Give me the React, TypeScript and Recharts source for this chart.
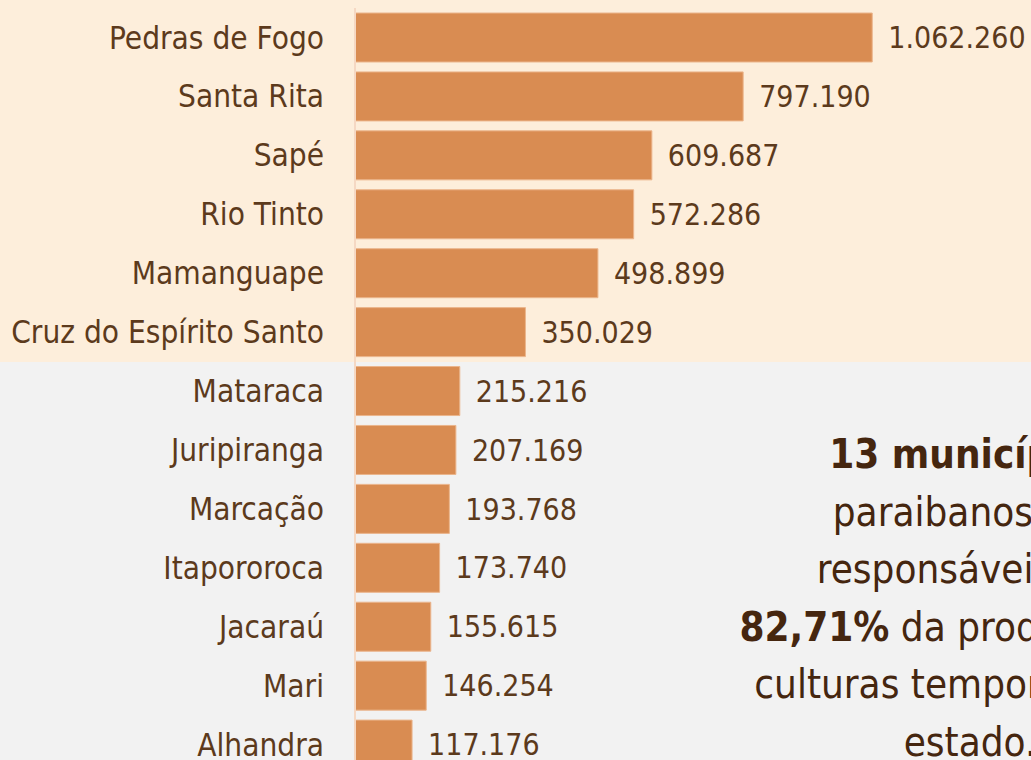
import { Bar, BarChart, LabelList, XAxis, YAxis } from "recharts";

const municipios = [
  "Pedras de Fogo",
  "Santa Rita",
  "Sapé",
  "Rio Tinto",
  "Mamanguape",
  "Cruz do Espírito Santo",
  "Mataraca",
  "Juripiranga",
  "Marcação",
  "Itapororoca",
  "Jacaraú",
  "Mari",
  "Alhandra",
];

const producao = [
  1062260, 797190, 609687, 572286, 498899, 350029, 215216, 207169, 193768,
  173740, 155615, 146254, 117176,
];

const data = municipios.map((nome, i) => ({ nome, valor: producao[i] }));

const font = "'DejaVu Sans Condensed', 'DejaVu Sans', sans-serif";
const textColor = "#5c3a1c";

const fmt = (v: number) =>
  v.toString().replace(/\B(?=(\d{3})+(?!\d))/g, ".");

export default function App() {
  return (
    <div
      style={{
        position: "absolute",
        left: 0,
        top: 0,
        width: 1031,
        height: 760,
        overflow: "hidden",
        fontFamily: font,
      }}
    >
      <div
        style={{
          position: "absolute",
          left: 0,
          top: 0,
          width: 1031,
          height: 362,
          background: "#fdeedb",
        }}
      />
      <div
        style={{
          position: "absolute",
          left: 0,
          top: 362,
          width: 1031,
          height: 398,
          background: "#f2f2f2",
        }}
      />
      <div style={{ position: "absolute", left: 0, top: 0 }}>
        <BarChart
          width={1031}
          height={780}
          data={data}
          layout="vertical"
          margin={{ top: 8, right: 43, left: 0, bottom: 6 }}
          barCategoryGap={5}
        >
          <XAxis type="number" domain={[0, 1300000]} hide />
          <YAxis
            type="category"
            dataKey="nome"
            width={355}
            axisLine={{ stroke: "#f5d8c3", strokeWidth: 2 }}
            tickLine={false}
            tickMargin={25}
            tick={{ fill: textColor, fontSize: 31.3, fontFamily: font }}
            interval={0}
          />
          <Bar
            dataKey="valor"
            fill="#d98c52"
            stroke="#ebb58c"
            strokeWidth={1}
            isAnimationActive={false}
          >
            <LabelList
              dataKey="valor"
              position="right"
              offset={16}
              formatter={(v: any) => fmt(Number(v))}
              style={{ fill: textColor, fontSize: 30, fontFamily: font }}
            />
          </Bar>
        </BarChart>
      </div>
      <div
        style={{
          position: "absolute",
          left: 670,
          top: 426,
          width: 600,
          textAlign: "center",
          whiteSpace: "nowrap",
          color: "#45260f",
          fontSize: 40,
          lineHeight: "57.5px",
        }}
      >
        <b>13 municípios</b>
        <br />
        paraibanos são
        <br />
        responsáveis por
        <br />
        <b>82,71%</b> da produção das
        <br />
        culturas temporárias do
        <br />
        estado.
      </div>
    </div>
  );
}
